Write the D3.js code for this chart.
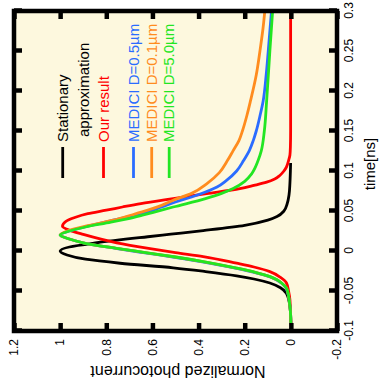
<!DOCTYPE html>
<html>
<head>
<meta charset="utf-8">
<script src="https://cdn.jsdelivr.net/npm/d3@7"></script>
<style>
  body { margin: 0; background: #fff; }
  svg { display: block; font-family: "Liberation Sans", Arial, sans-serif; }
</style>
</head>
<body>
<div id="chart"></div>
<script>
// time [ns] ticks and photocurrent ticks
const timeTicks = [-0.1, -0.05, 0, 0.05, 0.1, 0.15, 0.2, 0.25, 0.3];
const currentTicks = [-0.2, 0, 0.2, 0.4, 0.6, 0.8, 1, 1.2];

// series: [time ns, normalized photocurrent]
const stationary = [[-0.09,0],[-0.075,0.002],[-0.069,0.004],[-0.06,0.01],[-0.0526,0.02],[-0.046,0.045],
  [-0.04,0.091],[-0.035,0.16],[-0.031,0.235],[-0.0257,0.37],[-0.021,0.51],[-0.0153,0.74],[-0.0103,0.89],
  [-0.005,0.97],[0,1.0],[0.005,0.96],[0.0103,0.84],[0.0178,0.62],[0.021,0.52],[0.0255,0.38],[0.032,0.2],
  [0.0385,0.1],[0.043,0.06],[0.05,0.03],[0.059,0.016],[0.07,0.008],[0.085,0.004],[0.1,0.002],[0.11,0.001]];

const ourResult = [[-0.09,0],[-0.075,0.002],[-0.061,0.004],[-0.05,0.01],[-0.04,0.019],[-0.033,0.045],
  [-0.0257,0.091],[-0.02,0.16],[-0.0153,0.235],[-0.007,0.38],[-0.002,0.5],[0.003,0.61],[0.0103,0.755],
  [0.0207,0.9],[0.026,0.96],[0.031,0.99],[0.037,0.975],[0.0415,0.94],[0.0468,0.88],[0.051,0.8],[0.055,0.73],
  [0.0593,0.65],[0.0655,0.51],[0.0717,0.365],[0.078,0.221],[0.082,0.16],[0.086,0.105],[0.09,0.07],
  [0.0944,0.048],[0.1,0.03],[0.105,0.019],[0.113,0.01],[0.12,0.004],[0.13,0.002],[0.15,0.001],[0.3,0.001]];

const medici05 = [[-0.09,0],[-0.08,0.001],[-0.069,0.004],[-0.06,0.008],[-0.053,0.013],[-0.046,0.022],
  [-0.04,0.042],[-0.036,0.063],[-0.032,0.093],[-0.027,0.155],[-0.0215,0.24],[-0.0133,0.39],[-0.0075,0.51],
  [-0.002,0.64],[0.0033,0.76],[0.0103,0.9],[0.015,0.96],[0.0199,1.0],[0.025,0.96],[0.031,0.88],[0.0385,0.77],
  [0.044,0.69],[0.049,0.62],[0.055,0.56],[0.0613,0.5],[0.0675,0.43],[0.0737,0.37],[0.08,0.32],[0.088,0.28],
  [0.1,0.235],[0.113,0.205],[0.1255,0.18],[0.138,0.163],[0.15,0.15],[0.17,0.133],[0.1876,0.12],[0.22,0.107],
  [0.25,0.098],[0.3,0.084]];

const medici01 = [[-0.09,0],[-0.08,0.001],[-0.069,0.004],[-0.06,0.008],[-0.053,0.012],[-0.046,0.02],
  [-0.04,0.04],[-0.036,0.06],[-0.032,0.09],[-0.027,0.15],[-0.0215,0.235],[-0.0133,0.38],[-0.0075,0.5],
  [-0.002,0.63],[0.0033,0.755],[0.0103,0.9],[0.015,0.96],[0.0199,1.0],[0.025,0.97],[0.031,0.89],[0.0385,0.77],
  [0.045,0.69],[0.051,0.62],[0.057,0.56],[0.0634,0.51],[0.072,0.43],[0.084,0.365],[0.098,0.31],[0.113,0.275],
  [0.1255,0.25],[0.138,0.225],[0.15,0.21],[0.17,0.19],[0.1876,0.175],[0.22,0.15],[0.25,0.134],[0.28,0.12],
  [0.3,0.113]];

const medici50 = [[-0.09,0],[-0.08,0.001],[-0.069,0.004],[-0.06,0.008],[-0.053,0.012],[-0.046,0.02],
  [-0.04,0.04],[-0.036,0.06],[-0.032,0.09],[-0.027,0.15],[-0.0215,0.235],[-0.0133,0.38],[-0.0075,0.5],
  [-0.002,0.63],[0.0033,0.755],[0.0103,0.9],[0.015,0.96],[0.0199,1.0],[0.025,0.96],[0.03,0.89],[0.036,0.78],
  [0.042,0.68],[0.048,0.6],[0.055,0.51],[0.0655,0.37],[0.072,0.3],[0.078,0.25],[0.087,0.2],[0.0965,0.17],
  [0.113,0.142],[0.1255,0.128],[0.15,0.115],[0.1876,0.105],[0.25,0.091],[0.3,0.079]];

const seriesNames = ['Stationary', 'Our result', 'MEDICI D=0.5\u00b5m', 'MEDICI D=0.1\u00b5m', 'MEDICI D=5.0\u00b5m'];
const seriesColors = ['#000000', '#ff0000', '#2a6cff', '#ff8c1e', '#22e622'];
const seriesData = [stationary, ourResult, medici05, medici01, medici50];

const W = 389, H = 379; // the chart before it is turned on its side
const margin = {top: 14, right: 11, bottom: 42, left: 58};

const svg = d3.select('#chart').append('svg')
  .attr('width', 379)
  .attr('height', 389);

// whole chart is rotated a quarter turn counter-clockwise
const root = svg.append('g').attr('transform', `translate(0,${389}) rotate(-90)`);

const x = d3.scaleLinear().domain([-0.1, 0.3]).range([margin.left, W - margin.right]);
const y = d3.scaleLinear().domain([-0.2, 1.2]).range([H - margin.bottom, margin.top]);

const fmt = d => String(Math.round(d * 100) / 100);

root.append('rect')
  .attr('x', x(-0.1)).attr('y', y(1.2))
  .attr('width', x(0.3) - x(-0.1)).attr('height', y(-0.2) - y(1.2))
  .attr('fill', '#fdf8de');

const line = d3.line()
  .x(d => x(d[0]))
  .y(d => y(d[1]))
  .curve(d3.curveMonotoneX);

const order = [0, 1, 2, 3, 4];
order.forEach(i => {
  root.append('path')
    .datum(seriesData[i])
    .attr('fill', 'none')
    .attr('stroke', seriesColors[i])
    .attr('stroke-width', 2.8)
    .attr('d', line);
});

// legend
const legend = root.append('g').attr('class', 'legend');
const legendY = [62.7, 103.5, 133.5, 151.7, 169.2];
seriesNames.forEach((name, i) => {
  legend.append('line')
    .attr('x1', 211).attr('x2', 242)
    .attr('y1', legendY[i]).attr('y2', legendY[i])
    .attr('stroke', seriesColors[i]).attr('stroke-width', 2.8);
  legend.append('text')
    .attr('x', 247).attr('y', legendY[i]).attr('dy', '0.35em')
    .attr('fill', seriesColors[i])
    .attr('font-size', 15)
    .text(name);
});
legend.append('text')
  .attr('x', 252).attr('y', 83.5).attr('dy', '0.35em')
  .attr('font-size', 15)
  .text('approximation');

// axes with inward ticks on every side
function styleAxis(g) {
  g.select('.domain').remove();
  g.selectAll('.tick line').attr('stroke', '#000').attr('stroke-width', 4.5);
  g.selectAll('.tick text').attr('font-size', 12).attr('fill', '#000');
}

root.append('g')
  .attr('transform', `translate(0,${y(-0.2)})`)
  .call(d3.axisBottom(x).tickValues(timeTicks).tickFormat(fmt).tickSizeInner(-8).tickSizeOuter(0).tickPadding(7))
  .call(styleAxis);

root.append('g')
  .attr('transform', `translate(0,${y(1.2)})`)
  .call(d3.axisTop(x).tickValues(timeTicks).tickFormat('').tickSizeInner(-8).tickSizeOuter(0))
  .call(styleAxis);

root.append('g')
  .attr('transform', `translate(${x(-0.1)},0)`)
  .call(d3.axisLeft(y).tickValues(currentTicks).tickFormat(fmt).tickSizeInner(-8).tickSizeOuter(0).tickPadding(8))
  .call(styleAxis);

root.append('g')
  .attr('transform', `translate(${x(0.3)},0)`)
  .call(d3.axisRight(y).tickValues(currentTicks).tickFormat('').tickSizeInner(-8).tickSizeOuter(0))
  .call(styleAxis);

// frame
root.append('rect')
  .attr('x', x(-0.1)).attr('y', y(1.2))
  .attr('width', x(0.3) - x(-0.1)).attr('height', y(-0.2) - y(1.2))
  .attr('fill', 'none').attr('stroke', '#000').attr('stroke-width', 4.5);

// axis titles
root.append('text')
  .attr('x', 225).attr('y', 370).attr('dy', '0.35em')
  .attr('text-anchor', 'middle').attr('font-size', 15)
  .text('time[ns]');

root.append('text')
  .attr('transform', `translate(17,178) rotate(-90)`)
  .attr('dy', '0.35em')
  .attr('text-anchor', 'middle').attr('font-size', 16)
  .text('Normalized photocurrent');
</script>
</body>
</html>
